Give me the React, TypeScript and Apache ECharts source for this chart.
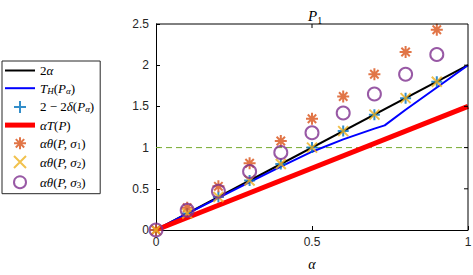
import React, { useEffect, useRef } from "react";
import * as echarts from "echarts";

const alphas = [0, 0.1, 0.2, 0.3, 0.4, 0.5, 0.6, 0.7, 0.8, 0.9];
const twoAlphaX = [0, 1];
const twoAlphaY = [0, 2];
const thX = [0, 0.1, 0.2, 0.3, 0.4, 0.5, 0.6, 0.7, 0.733, 0.8, 0.9, 1];
const thY = [0, 0.2, 0.39, 0.58, 0.77, 0.95, 1.1, 1.23, 1.27, 1.46, 1.73, 2];
const deltaY = [0, 0.2, 0.4, 0.6, 0.8, 1.0, 1.2, 1.4, 1.6, 1.8];
const aTX = [0, 1];
const aTY = [0, 1.5];
const sigma1Y = [0, 0.27, 0.53, 0.81, 1.08, 1.35, 1.62, 1.89, 2.16, 2.43];
const sigma2Y = [0, 0.2, 0.4, 0.6, 0.8, 1.0, 1.2, 1.4, 1.6, 1.8];
const sigma3Y = [0, 0.24, 0.47, 0.71, 0.94, 1.18, 1.42, 1.65, 1.89, 2.13];
const yTicks = [0, 0.5, 1, 1.5, 2, 2.5];
const refLineX = [0, 1];
const refLineY = [1, 1];
const xMin = 0;
const xMax = 1;
const yMin = 0;
const yMax = 2.5;

const zip = (xs: number[], ys: number[]) => xs.map((x, i) => [x, ys[i]]);

const PLUS = "path://M10 0 L10 20 M0 10 L20 10";
const CROSS = "path://M1 1 L19 19 M19 1 L1 19";
const STAR = "path://M10 0 L10 20 M0 10 L20 10 M3 3 L17 17 M17 3 L3 17";

const serif = "'Liberation Serif', 'DejaVu Serif', serif";
const base = { fontFamily: serif, color: "#000", fontWeight: "normal" as const };
const rich = {
  n: { ...base, fontSize: 13, lineHeight: 14 },
  i: { ...base, fontSize: 13, fontStyle: "italic", lineHeight: 14 },
  s: { ...base, fontSize: 9, fontStyle: "italic", lineHeight: 8, verticalAlign: "bottom" },
  sn: { ...base, fontSize: 9, lineHeight: 8, verticalAlign: "bottom" },
  ti: { ...base, fontSize: 15, fontStyle: "italic", lineHeight: 18 },
  tn: { ...base, fontSize: 10, lineHeight: 10, verticalAlign: "bottom" },
};

const labels: Record<string, string> = {
  "2a": "{n|2}{i|α}",
  TH: "{i|T}{s|H}{n|(}{i|P}{s|α}{n|)}",
  delta: "{n|2 − 2}{i|δ}{n|(}{i|P}{s|α}{n|)}",
  aT: "{i|αT}{n|(}{i|P}{n|)}",
  s1: "{i|αθ}{n|(}{i|P, σ}{sn|1}{n|)}",
  s2: "{i|αθ}{n|(}{i|P, σ}{sn|2}{n|)}",
  s3: "{i|αθ}{n|(}{i|P, σ}{sn|3}{n|)}",
};

export default function App() {
  const ref = useRef<HTMLDivElement>(null);
  useEffect(() => {
    const chart = echarts.init(ref.current!, undefined, { renderer: "svg" });
    const labelStyle = { color: "#262626", fontSize: 12, fontFamily: "'Liberation Sans', Arial, sans-serif" };
    chart.setOption({
      animation: false,
      title: {
        text: "{ti|P}{tn|1}",
        left: 303,
        top: 2,
        textStyle: { rich, fontWeight: "normal" },
      },
      grid: { left: 156, right: 5, top: 24, bottom: 45, outerBoundsMode: "none" },
      xAxis: {
        type: "value",
        min: xMin,
        max: xMax,
        interval: 0.5,
        axisLine: { show: true, onZero: false, lineStyle: { color: "#000", width: 1 } },
        axisTick: { show: true, inside: true, length: 4, lineStyle: { color: "#000" } },
        splitLine: { show: false },
        axisLabel: { ...labelStyle, margin: 6 },
        name: "α",
        nameLocation: "middle",
        nameGap: 27,
        nameTextStyle: { fontFamily: serif, fontStyle: "italic", fontSize: 14, color: "#000" },
      },
      yAxis: {
        type: "value",
        min: yMin,
        max: yMax,
        interval: 0.5,
        axisLine: { show: true, onZero: false, lineStyle: { color: "#000", width: 1 } },
        axisTick: { show: true, inside: true, length: 4, lineStyle: { color: "#000" } },
        splitLine: { show: false },
        axisLabel: {
          ...labelStyle,
          margin: 7,
          formatter: (v: number) => (yTicks.includes(v) ? String(v) : ""),
        },
      },
      legend: {
        orient: "vertical",
        left: 2,
        top: 61,
        padding: [3, 6, 3, 3],
        itemWidth: 30,
        itemHeight: 12,
        itemGap: 4.7,
        borderColor: "#262626",
        borderWidth: 1,
        backgroundColor: "#fff",
        data: [
          { name: "2a", icon: "path://M0 0 H30 V2 H0 Z" },
          { name: "TH", icon: "path://M0 0 H30 V2 H0 Z" },
          { name: "delta" },
          { name: "aT", icon: "path://M0 0 H30 V5 H0 Z" },
          { name: "s1" },
          { name: "s2" },
          { name: "s3" },
        ],
        formatter: (name: string) => labels[name],
        textStyle: { rich },
      },
      series: [
        {
          name: "ref",
          type: "line",
          data: zip(refLineX, refLineY),
          symbol: "none",
          silent: true,
          lineStyle: { color: "#77AC30", type: [6, 4], width: 1 },
          itemStyle: { color: "#77AC30" },
          z: 1,
        },
        {
          name: "2a",
          type: "line",
          data: zip(twoAlphaX, twoAlphaY),
          symbol: "none",
          lineStyle: { color: "#000", width: 2 },
          itemStyle: { color: "#000" },
          z: 2,
        },
        {
          name: "TH",
          type: "line",
          data: zip(thX, thY),
          symbol: "none",
          lineStyle: { color: "#0000FF", width: 2 },
          itemStyle: { color: "#0000FF" },
          z: 3,
        },
        {
          name: "delta",
          type: "scatter",
          data: zip(alphas, deltaY),
          symbol: PLUS,
          symbolSize: 11,
          itemStyle: { color: "#0072BD", borderColor: "#0072BD", borderWidth: 2 },
          z: 4,
        },
        {
          name: "aT",
          type: "line",
          data: zip(aTX, aTY),
          symbol: "none",
          lineStyle: { color: "#FF0000", width: 5 },
          itemStyle: { color: "#FF0000" },
          z: 5,
        },
        {
          name: "s1",
          type: "scatter",
          data: zip(alphas, sigma1Y),
          symbol: STAR,
          symbolSize: 12,
          itemStyle: { color: "#D95319", borderColor: "#D95319", borderWidth: 2 },
          z: 6,
        },
        {
          name: "s2",
          type: "scatter",
          data: zip(alphas, sigma2Y),
          symbol: CROSS,
          symbolSize: 10,
          itemStyle: { color: "#EDB120", borderColor: "#EDB120", borderWidth: 2 },
          z: 7,
        },
        {
          name: "s3",
          type: "scatter",
          data: zip(alphas, sigma3Y),
          symbol: "circle",
          symbolSize: 13,
          itemStyle: { color: "none", borderColor: "#7E2F8E", borderWidth: 2 },
          z: 8,
        },
      ],
    });
    const tl = chart.convertToPixel({ gridIndex: 0 }, [xMin, yMax]) as number[];
    const br = chart.convertToPixel({ gridIndex: 0 }, [xMax, yMin]) as number[];
    const mid = chart.convertToPixel({ gridIndex: 0 }, [0.5, 0.5]) as number[];
    const ticksRight = yTicks.slice(1, -1).map((v) => {
      const p = chart.convertToPixel({ gridIndex: 0 }, [xMax, v]) as number[];
      return { type: "line", shape: { x1: br[0], y1: p[1], x2: br[0] - 4, y2: p[1] }, style: { stroke: "#000", lineWidth: 1 }, z: 100 };
    });
    chart.setOption({
      graphic: [
        { type: "line", shape: { x1: tl[0], y1: tl[1], x2: br[0], y2: tl[1] }, style: { stroke: "#000", lineWidth: 1 }, z: 100, silent: true },
        { type: "line", shape: { x1: br[0], y1: tl[1], x2: br[0], y2: br[1] }, style: { stroke: "#000", lineWidth: 1 }, z: 100, silent: true },
        { type: "line", shape: { x1: mid[0], y1: tl[1], x2: mid[0], y2: tl[1] + 4 }, style: { stroke: "#000", lineWidth: 1 }, z: 100 },
        ...ticksRight,
      ],
    });
    return () => chart.dispose();
  }, []);
  return (
    <div
      ref={ref}
      style={{ position: "fixed", left: 0, top: 0, width: 473, height: 275, background: "#fff" }}
    />
  );
}
